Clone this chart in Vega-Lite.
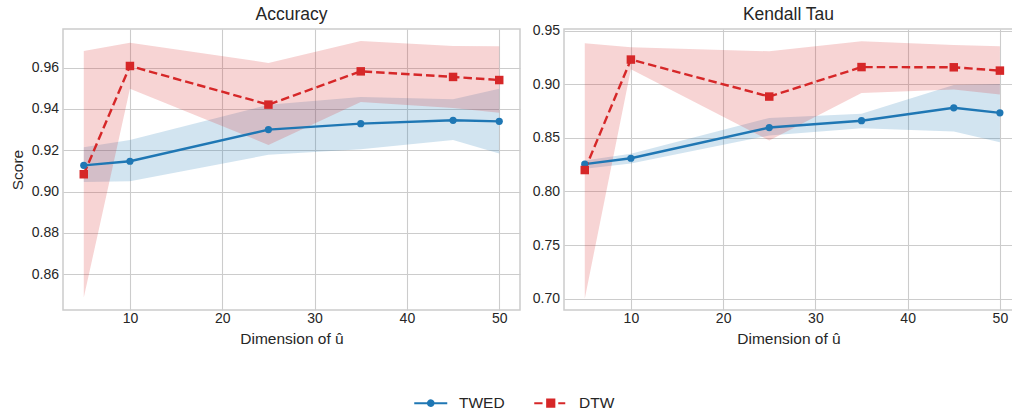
{
  "$schema": "https://vega.github.io/schema/vega-lite/v6.json",
  "padding": {"left": 10, "top": 4, "right": 0, "bottom": 0},
  "spacing": 10,
  "datasets": {
    "d": [
      {"metric": "Accuracy", "method": "TWED", "dim": 5, "mean": 0.9127, "lo": 0.9047, "hi": 0.9215},
      {"metric": "Accuracy", "method": "TWED", "dim": 10, "mean": 0.9147, "lo": 0.9050, "hi": 0.9250},
      {"metric": "Accuracy", "method": "TWED", "dim": 25, "mean": 0.9300, "lo": 0.9178, "hi": 0.9420},
      {"metric": "Accuracy", "method": "TWED", "dim": 35, "mean": 0.9329, "lo": 0.9205, "hi": 0.9458},
      {"metric": "Accuracy", "method": "TWED", "dim": 45, "mean": 0.9345, "lo": 0.9250, "hi": 0.9447},
      {"metric": "Accuracy", "method": "TWED", "dim": 50, "mean": 0.9340, "lo": 0.9184, "hi": 0.9498},
      {"metric": "Accuracy", "method": "DTW", "dim": 5, "mean": 0.9084, "lo": 0.8487, "hi": 0.9681},
      {"metric": "Accuracy", "method": "DTW", "dim": 10, "mean": 0.9608, "lo": 0.9498, "hi": 0.9720},
      {"metric": "Accuracy", "method": "DTW", "dim": 25, "mean": 0.9421, "lo": 0.9226, "hi": 0.9623},
      {"metric": "Accuracy", "method": "DTW", "dim": 35, "mean": 0.9582, "lo": 0.9434, "hi": 0.9729},
      {"metric": "Accuracy", "method": "DTW", "dim": 45, "mean": 0.9555, "lo": 0.9405, "hi": 0.9705},
      {"metric": "Accuracy", "method": "DTW", "dim": 50, "mean": 0.9540, "lo": 0.9382, "hi": 0.9703},
      {"metric": "Kendall Tau", "method": "TWED", "dim": 5, "mean": 0.8255, "lo": 0.8211, "hi": 0.8290},
      {"metric": "Kendall Tau", "method": "TWED", "dim": 10, "mean": 0.8310, "lo": 0.8260, "hi": 0.8351},
      {"metric": "Kendall Tau", "method": "TWED", "dim": 25, "mean": 0.8596, "lo": 0.8522, "hi": 0.8686},
      {"metric": "Kendall Tau", "method": "TWED", "dim": 35, "mean": 0.8660, "lo": 0.8590, "hi": 0.8724},
      {"metric": "Kendall Tau", "method": "TWED", "dim": 45, "mean": 0.8780, "lo": 0.8560, "hi": 0.8994},
      {"metric": "Kendall Tau", "method": "TWED", "dim": 50, "mean": 0.8733, "lo": 0.8460, "hi": 0.9003},
      {"metric": "Kendall Tau", "method": "DTW", "dim": 5, "mean": 0.8200, "lo": 0.7000, "hi": 0.9382},
      {"metric": "Kendall Tau", "method": "DTW", "dim": 10, "mean": 0.9230, "lo": 0.9140, "hi": 0.9345},
      {"metric": "Kendall Tau", "method": "DTW", "dim": 25, "mean": 0.8885, "lo": 0.8476, "hi": 0.9307},
      {"metric": "Kendall Tau", "method": "DTW", "dim": 35, "mean": 0.9160, "lo": 0.8919, "hi": 0.9400},
      {"metric": "Kendall Tau", "method": "DTW", "dim": 45, "mean": 0.9158, "lo": 0.8950, "hi": 0.9366},
      {"metric": "Kendall Tau", "method": "DTW", "dim": 50, "mean": 0.9127, "lo": 0.8904, "hi": 0.9354}
    ]
  },
  "hconcat": [
    {
      "width": 457,
      "height": 281,
      "title": {"text": "Accuracy", "offset": 6},
      "data": {"name": "d"},
      "transform": [{"filter": "datum.metric === 'Accuracy'"}],
      "encoding": {
        "x": {"field": "dim", "type": "quantitative", "scale": {"domain": [2.75, 52.25], "nice": false, "zero": false}, "axis": {"title": "Dimension of û", "values": [10, 20, 30, 40, 50]}},
        "y": {"field": "mean", "type": "quantitative", "scale": {"domain": [0.8427, 0.9787], "nice": false, "zero": false}, "axis": {"title": "Score", "values": [0.86, 0.88, 0.9, 0.92, 0.94, 0.96], "format": ".2f"}},
        "color": {
          "field": "method", "type": "nominal",
          "scale": {"domain": ["TWED", "DTW"], "range": ["#1f77b4", "#d62728"]},
          "legend": {
            "title": null,
            "orient": "none",
            "legendX": 360,
            "legendY": 366,
            "direction": "horizontal",
            "labelFont": "Liberation Sans",
            "labelFontSize": 15.5,
            "labelColor": "#262626",
            "symbolSize": 100,
            "labelOffset": 20.5,
            "columnPadding": 25,
            "padding": 0,
            "encode": {
              "symbols": {
                "update": {
                  "shape": {"signal": "datum.value === 'TWED' ? 'M-3.3,0H3.3M0.56,0A0.56,0.56 0 1,1 -0.56,0A0.56,0.56 0 1,1 0.56,0Z' : 'M-3.3,0H-1.64M1.5,0H2.9M-0.72,-0.72H0.72V0.72H-0.72Z'"},
                  "stroke": {"signal": "datum.value === 'TWED' ? '#1f77b4' : '#d62728'"},
                  "fill": {"signal": "datum.value === 'TWED' ? '#1f77b4' : '#d62728'"},
                  "strokeWidth": {"value": 2},
                  "strokeDash": {"value": [1, 0]},
                  "size": {"value": 100},
                  "opacity": {"value": 1},
                  "fillOpacity": {"value": 1},
                  "strokeOpacity": {"value": 1}
                }
              }
            }
          }
        }
      },
      "layer": [
        {
          "mark": {"type": "area", "opacity": 0.2},
          "encoding": {
            "y": {"field": "lo", "type": "quantitative"},
            "y2": {"field": "hi"}
          }
        },
        {
          "transform": [{"filter": "datum.method === 'TWED'"}],
          "mark": {"type": "line", "strokeWidth": 2.4}
        },
        {
          "transform": [{"filter": "datum.method === 'DTW'"}],
          "mark": {"type": "line", "strokeWidth": 2.4, "strokeDash": [8.5, 4]}
        },
        {
          "transform": [{"filter": "datum.method === 'TWED'"}],
          "mark": {"type": "point", "shape": "circle", "filled": true, "opacity": 1, "size": 52}
        },
        {
          "transform": [{"filter": "datum.method === 'DTW'"}],
          "mark": {"type": "point", "shape": "square", "filled": true, "opacity": 1, "size": 72}
        }
      ]
    },
    {
      "width": 449,
      "height": 281,
      "title": {"text": "Kendall Tau", "offset": 0.5},
      "data": {"name": "d"},
      "transform": [{"filter": "datum.metric === 'Kendall Tau'"}],
      "encoding": {
        "x": {"field": "dim", "type": "quantitative", "scale": {"domain": [2.75, 51.42], "nice": false, "zero": false}, "axis": {"title": "Dimension of û", "values": [10, 20, 30, 40, 50]}},
        "y": {"field": "mean", "type": "quantitative", "scale": {"domain": [0.6895, 0.9515], "nice": false, "zero": false}, "axis": {"title": null, "values": [0.7, 0.75, 0.8, 0.85, 0.9, 0.95], "format": ".2f"}},
        "color": {"field": "method", "type": "nominal", "scale": {"domain": ["TWED", "DTW"], "range": ["#1f77b4", "#d62728"]}}
      },
      "layer": [
        {
          "mark": {"type": "area", "opacity": 0.2},
          "encoding": {
            "y": {"field": "lo", "type": "quantitative"},
            "y2": {"field": "hi"}
          }
        },
        {
          "transform": [{"filter": "datum.method === 'TWED'"}],
          "mark": {"type": "line", "strokeWidth": 2.4}
        },
        {
          "transform": [{"filter": "datum.method === 'DTW'"}],
          "mark": {"type": "line", "strokeWidth": 2.4, "strokeDash": [8.5, 4]}
        },
        {
          "transform": [{"filter": "datum.method === 'TWED'"}],
          "mark": {"type": "point", "shape": "circle", "filled": true, "opacity": 1, "size": 52}
        },
        {
          "transform": [{"filter": "datum.method === 'DTW'"}],
          "mark": {"type": "point", "shape": "square", "filled": true, "opacity": 1, "size": 72}
        }
      ]
    }
  ],
  "resolve": {"scale": {"x": "independent", "y": "independent"}},
  "config": {
    "font": "Liberation Sans",
    "view": {"stroke": "#cccccc", "strokeWidth": 1.5},
    "title": {"font": "Liberation Sans", "fontSize": 17.5, "fontWeight": "normal", "color": "#262626", "anchor": "middle"},
    "axis": {
      "labelFont": "Liberation Sans", "labelFontSize": 14, "labelColor": "#262626",
      "titleFont": "Liberation Sans", "titleFontSize": 15.5, "titleFontWeight": "normal", "titleColor": "#262626",
      "gridColor": "#cccccc", "gridWidth": 1.1, "domain": false, "ticks": false, "labelPadding": 4.5, "labelFlush": false
    },
    "axisX": {"labelPadding": 1, "titlePadding": 6.5},
    "axisY": {"titlePadding": 5.5}
  }
}
